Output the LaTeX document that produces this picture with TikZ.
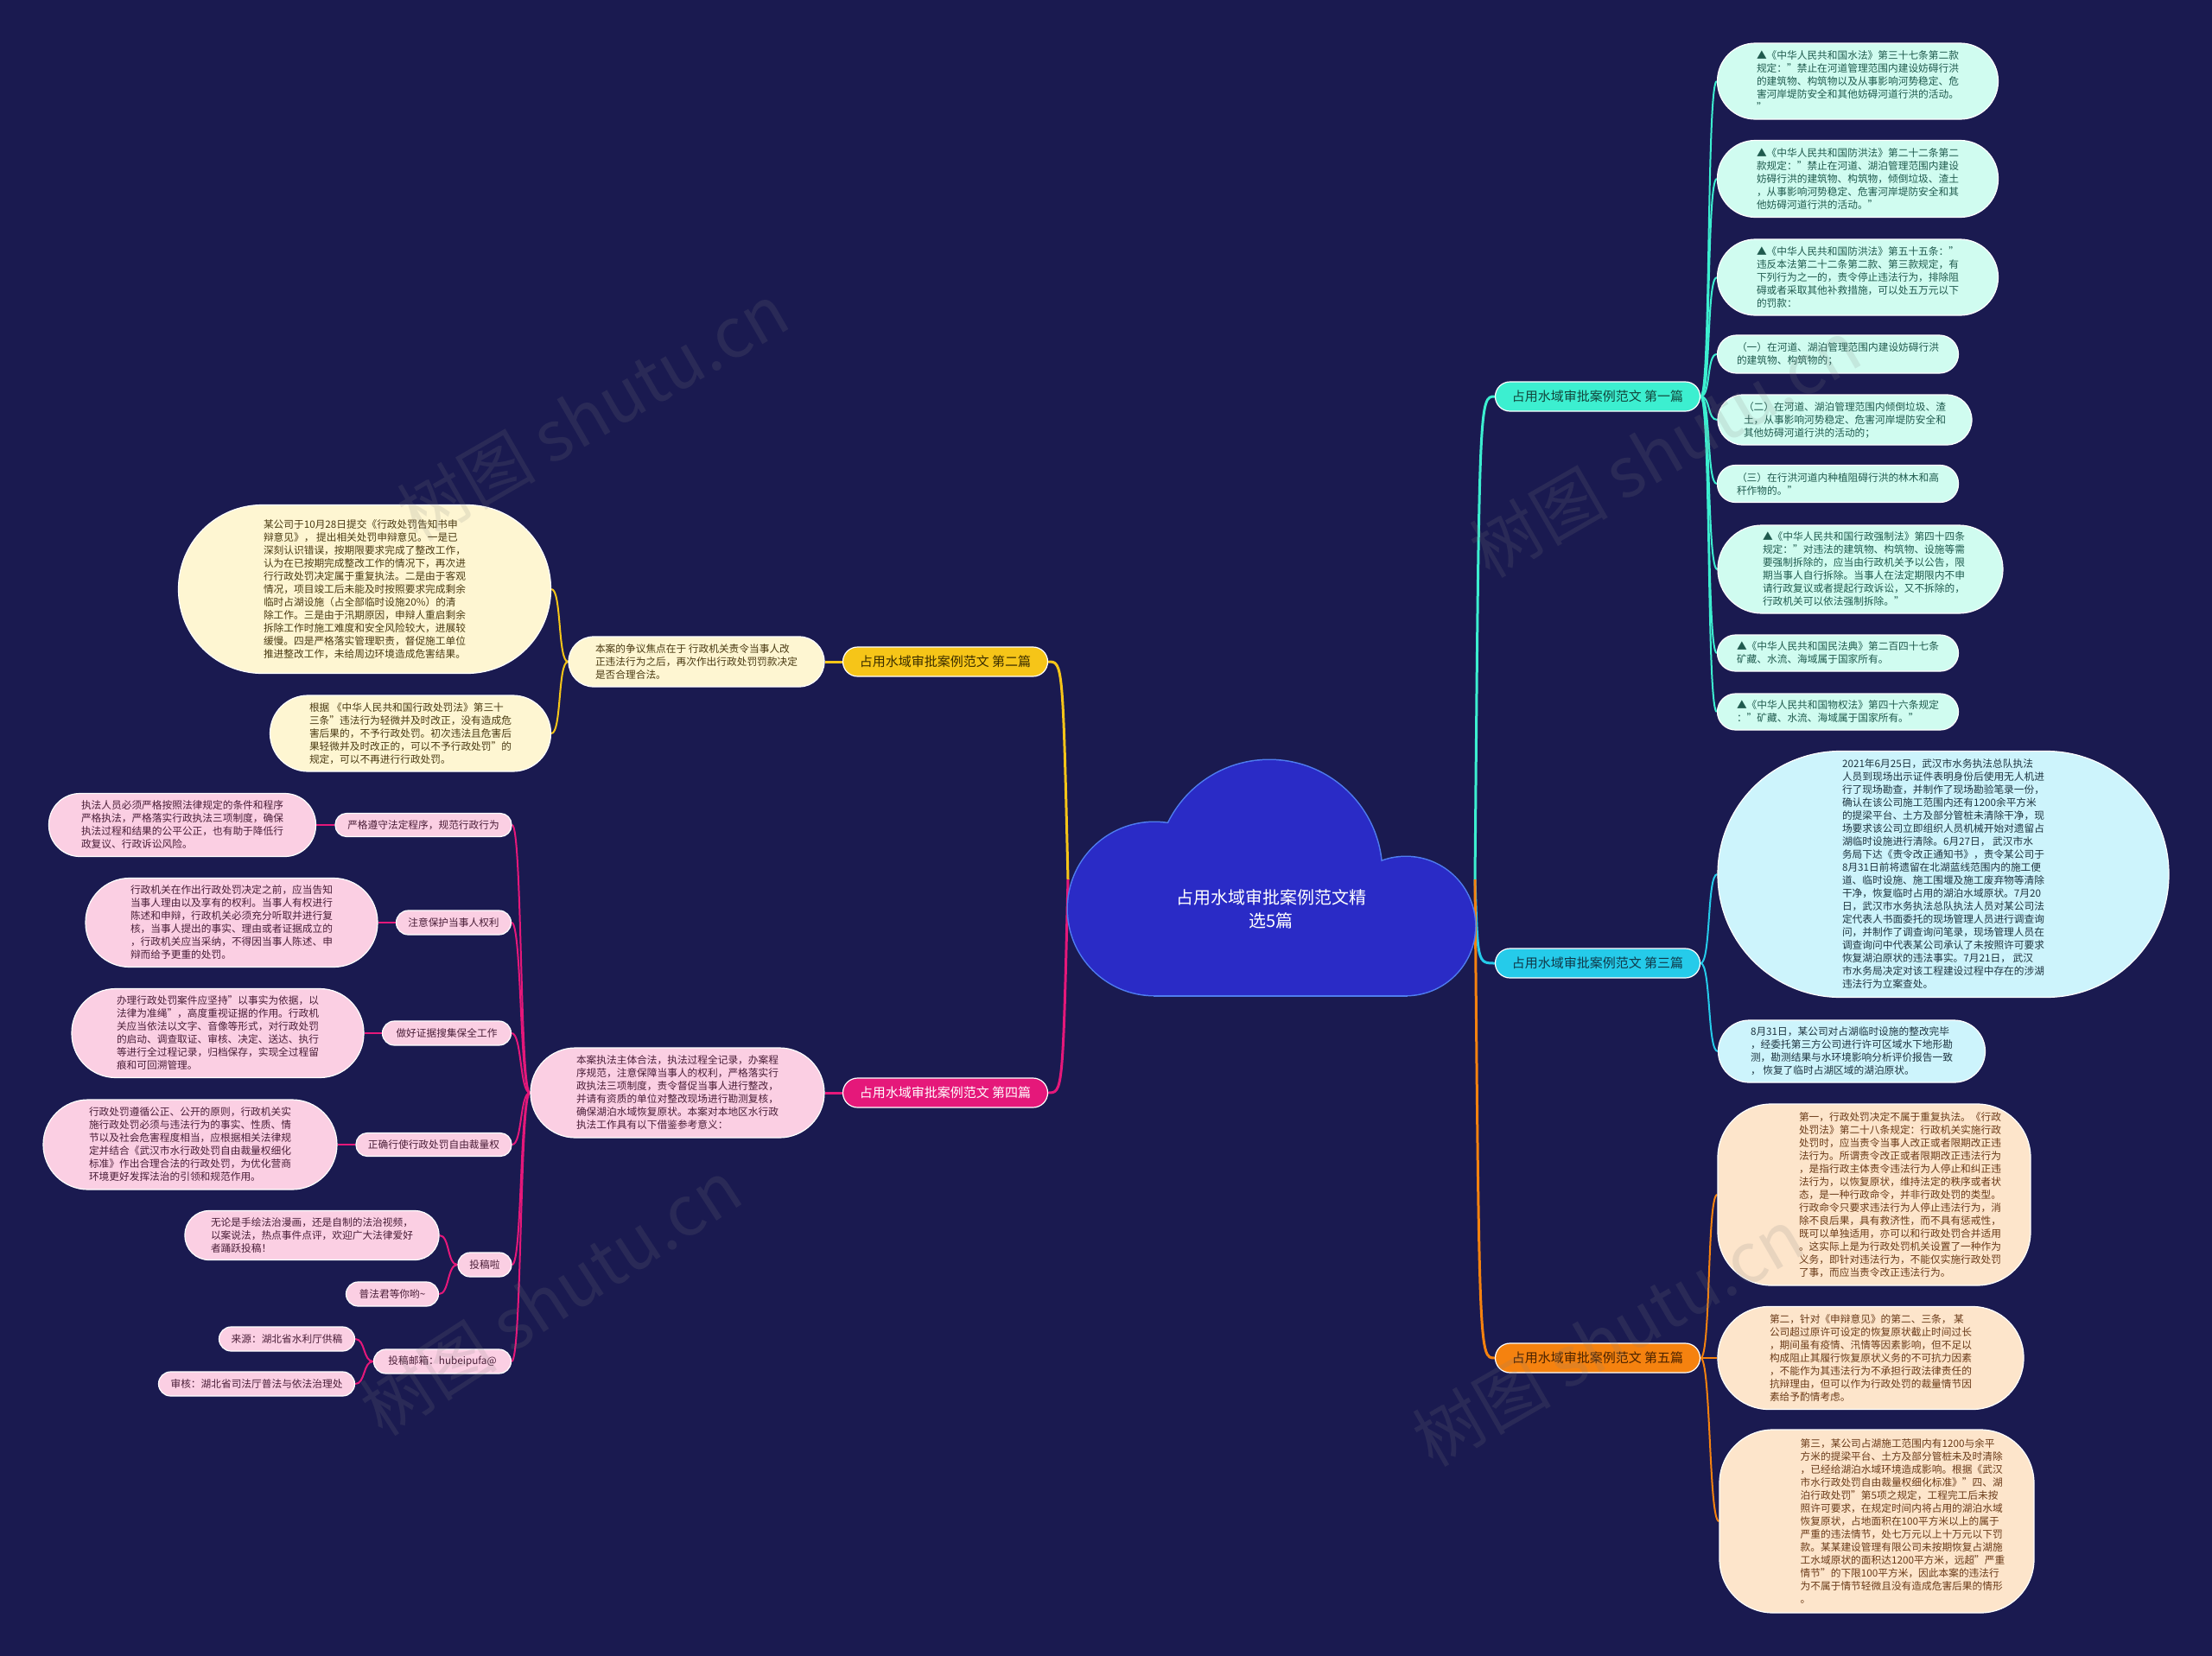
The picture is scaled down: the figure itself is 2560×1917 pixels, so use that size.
\documentclass[tikz,border=0pt]{standalone}
\usepackage{fontspec}
\setmainfont{Noto Sans CJK SC}
\usetikzlibrary{calc}
\definecolor{bgc}{HTML}{1A1A50}
\definecolor{cloudf}{HTML}{2A2BC6}
\definecolor{cloudb}{HTML}{4F7DF0}
\definecolor{g1}{HTML}{3CEFD0}
\definecolor{g1t}{HTML}{12463C}
\definecolor{mintf}{HTML}{D0FCF0}
\definecolor{mintt}{HTML}{1F5A4E}
\definecolor{g3}{HTML}{25CBEA}
\definecolor{g3t}{HTML}{10394A}
\definecolor{skyf}{HTML}{CDF4FC}
\definecolor{skyt}{HTML}{1E3440}
\definecolor{g5}{HTML}{F5820F}
\definecolor{g5t}{HTML}{4A2200}
\definecolor{peachf}{HTML}{FDE5CB}
\definecolor{peacht}{HTML}{6A3A18}
\definecolor{g2}{HTML}{F6C518}
\definecolor{g2t}{HTML}{3A2D00}
\definecolor{creamf}{HTML}{FEF6D2}
\definecolor{creamt}{HTML}{4A3A12}
\definecolor{g4}{HTML}{E5187A}
\definecolor{pinkf}{HTML}{FBCFE3}
\definecolor{pinkt}{HTML}{4A1E38}
\pgfdeclarelayer{bgl}
\pgfsetlayers{bgl,main}
\tikzset{
  leafbase/.style={rectangle, draw=white, line width=1.2pt, inner sep=0pt},
  tx/.style={font=\fontsize{11.7}{15}\selectfont, align=left, inner sep=0pt},
  mint/.style={leafbase, fill=mintf}, minttxt/.style={tx, text=mintt},
  sky/.style={leafbase, fill=skyf}, skytxt/.style={tx, text=skyt},
  peach/.style={leafbase, fill=peachf}, peachtxt/.style={tx, text=peacht},
  cream/.style={leafbase, fill=creamf}, creamtxt/.style={tx, text=creamt},
  pink/.style={leafbase, fill=pinkf}, pinktxt/.style={tx, text=pinkt},
  br/.style={rectangle, draw=white, line width=1.2pt, rounded corners=17pt,
    minimum width=237pt, minimum height=34pt, inner sep=0pt,
    font=\fontsize{15}{18}\selectfont},
  cb/.style={line width=3pt},
  lk/.style={line width=2pt},
  wm/.style={font=\fontsize{80}{90}\selectfont, text=gray, opacity=0.16},
}
\newcommand{\mleaf}[9]{%
  \node[#7, minimum width=#4pt, minimum height=#5pt, rounded corners=#6pt] (#1) at (#2,#3) {};
  \node[#7txt] (#1t) at ([xshift=#8pt]#1.center) {#9};
}
\newcommand{\rconn}[3]{\draw[lk, draw=#3] (#1.east) .. controls +(12,0) and +(-12,0) .. (#2.west);}
\newcommand{\lconn}[3]{\draw[lk, draw=#3] (#1.west) .. controls +(-12,0) and +(12,0) .. (#2.east);}
\begin{document}
\begin{tikzpicture}[x=1pt,y=-1pt]
\useasboundingbox (0,0) rectangle (2560,1917);
\begin{pgfonlayer}{bgl}
\fill[bgc] (0,0) rectangle (2560,1917);
\end{pgfonlayer}

% cloud
\draw[cloudb, line width=3pt] (1469,1010) circle[radius=130];
\draw[cloudb, line width=3pt] (1336,1052) circle[radius=100];
\draw[cloudb, line width=3pt] (1627,1072) circle[radius=80];
\draw[cloudb, line width=3pt] (1336,1050) rectangle (1627,1152);
\fill[cloudf] (1469,1010) circle[radius=130];
\fill[cloudf] (1336,1052) circle[radius=100];
\fill[cloudf] (1627,1072) circle[radius=80];
\fill[cloudf] (1336,1050) rectangle (1627,1152);
\node[font=\fontsize{20}{27}\selectfont, text=white, align=center] (ctr) at (1471,1052) {占用水域审批案例范文精\\选5篇};
\coordinate (cR) at (1707,1018);
\coordinate (cL) at (1236,1018);

% branches
\node[br, fill=g1, text=g1t] (b1) at (1849,459) {占用水域审批案例范文 第一篇};
\node[br, fill=g3, text=g3t] (b3) at (1849,1115) {占用水域审批案例范文 第三篇};
\node[br, fill=g5, text=g5t] (b5) at (1849,1572) {占用水域审批案例范文 第五篇};
\node[br, fill=g2, text=g2t] (b2) at (1094,766) {占用水域审批案例范文 第二篇};
\node[br, fill=g4, text=white] (b4) at (1094,1265) {占用水域审批案例范文 第四篇};

% branch 1 leaves
\mleaf{L1a}{2150}{94}{325}{88}{44}{mint}{0}{▲《中华人民共和国水法》第三十七条第二款\\规定："禁止在河道管理范围内建设妨碍行洪\\的建筑物、构筑物以及从事影响河势稳定、危\\害河岸堤防安全和其他妨碍河道行洪的活动。\\"}
\mleaf{L1b}{2150}{207}{325}{89}{44}{mint}{0}{▲《中华人民共和国防洪法》第二十二条第二\\款规定："禁止在河道、湖泊管理范围内建设\\妨碍行洪的建筑物、构筑物，倾倒垃圾、渣土\\，从事影响河势稳定、危害河岸堤防安全和其\\他妨碍河道行洪的活动。"}
\mleaf{L1c}{2150}{321}{325}{88}{44}{mint}{0}{▲《中华人民共和国防洪法》第五十五条："\\违反本法第二十二条第二款、第三款规定，有\\下列行为之一的，责令停止违法行为，排除阻\\碍或者采取其他补救措施，可以处五万元以下\\的罚款：}
\mleaf{L1d}{2127}{410}{279}{44}{22}{mint}{0}{（一）在河道、湖泊管理范围内建设妨碍行洪\\的建筑物、构筑物的；}
\mleaf{L1e}{2135}{486}{294}{58}{29}{mint}{0}{（二）在河道、湖泊管理范围内倾倒垃圾、渣\\土，从事影响河势稳定、危害河岸堤防安全和\\其他妨碍河道行洪的活动的；}
\mleaf{L1f}{2127}{560}{279}{43}{21}{mint}{0}{（三）在行洪河道内种植阻碍行洪的林木和高\\秆作物的。"}
\mleaf{L1g}{2153}{659}{330}{102}{51}{mint}{4}{▲《中华人民共和国行政强制法》第四十四条\\规定："对违法的建筑物、构筑物、设施等需\\要强制拆除的，应当由行政机关予以公告，限\\期当事人自行拆除。当事人在法定期限内不申\\请行政复议或者提起行政诉讼，又不拆除的，\\行政机关可以依法强制拆除。"}
\mleaf{L1h}{2127}{756}{279}{42}{21}{mint}{0}{▲《中华人民共和国民法典》第二百四十七条\\矿藏、水流、海域属于国家所有。}
\mleaf{L1i}{2127}{824}{279}{42}{21}{mint}{0}{▲《中华人民共和国物权法》第四十六条规定\\："矿藏、水流、海域属于国家所有。"}

% branch 3 leaves
\mleaf{L3a}{2249}{1012}{522}{285}{142}{sky}{0}{2021年6月25日，武汉市水务执法总队执法\\人员到现场出示证件表明身份后使用无人机进\\行了现场勘查，并制作了现场勘验笔录一份，\\确认在该公司施工范围内还有1200余平方米\\的提梁平台、土方及部分管桩未清除干净，现\\场要求该公司立即组织人员机械开始对遗留占\\湖临时设施进行清除。6月27日， 武汉市水\\务局下达《责令改正通知书》，责令某公司于\\8月31日前将遗留在北湖蓝线范围内的施工便\\道、临时设施、施工围堰及施工废弃物等清除\\干净，恢复临时占用的湖泊水域原状。7月20\\日，武汉市水务执法总队执法人员对某公司法\\定代表人书面委托的现场管理人员进行调查询\\问，并制作了调查询问笔录，现场管理人员在\\调查询问中代表某公司承认了未按照许可要求\\恢复湖泊原状的违法事实。7月21日， 武汉\\市水务局决定对该工程建设过程中存在的涉湖\\违法行为立案查处。}
\mleaf{L3b}{2143}{1217}{309}{72}{36}{sky}{0}{8月31日，某公司对占湖临时设施的整改完毕\\，经委托第三方公司进行许可区域水下地形勘\\测，勘测结果与水环境影响分析评价报告一致\\， 恢复了临时占湖区域的湖泊原状。}

% branch 5 leaves
\mleaf{L5a}{2169}{1383}{362}{210}{62}{peach}{30}{第一，行政处罚决定不属于重复执法。《行政\\处罚法》第二十八条规定：行政机关实施行政\\处罚时，应当责令当事人改正或者限期改正违\\法行为。所谓责令改正或者限期改正违法行为\\，是指行政主体责令违法行为人停止和纠正违\\法行为，以恢复原状，维持法定的秩序或者状\\态，是一种行政命令，并非行政处罚的类型。\\行政命令只要求违法行为人停止违法行为，消\\除不良后果，具有救济性，而不具有惩戒性，\\既可以单独适用，亦可以和行政处罚合并适用\\。这实际上是为行政处罚机关设置了一种作为\\义务，即针对违法行为，不能仅实施行政处罚\\了事，而应当责令改正违法行为。}
\mleaf{L5b}{2165}{1572}{354}{119}{59}{peach}{0}{第二，针对《申辩意见》的第二、三条， 某\\公司超过原许可设定的恢复原状截止时间过长\\，期间虽有疫情、汛情等因素影响，但不足以\\构成阻止其履行恢复原状义务的不可抗力因素\\，不能作为其违法行为不承担行政法律责任的\\抗辩理由，但可以作为行政处罚的裁量情节因\\素给予酌情考虑。}
\mleaf{L5c}{2172}{1761}{364}{212}{62}{peach}{30}{第三，某公司占湖施工范围内有1200与余平\\方米的提梁平台、土方及部分管桩未及时清除\\，已经给湖泊水域环境造成影响。根据《武汉\\市水行政处罚自由裁量权细化标准》"四、湖\\泊行政处罚"第5项之规定，工程完工后未按\\照许可要求，在规定时间内将占用的湖泊水域\\恢复原状，占地面积在100平方米以上的属于\\严重的违法情节，处七万元以上十万元以下罚\\款。某某建设管理有限公司未按期恢复占湖施\\工水域原状的面积达1200平方米，远超"严重\\情节"的下限100平方米，因此本案的违法行\\为不属于情节轻微且没有造成危害后果的情形\\。}

% branch 2
\mleaf{C2}{806}{766}{296}{58}{29}{cream}{0}{本案的争议焦点在于 行政机关责令当事人改\\正违法行为之后，再次作出行政处罚罚款决定\\是否合理合法。}
\mleaf{Y1}{422}{682}{431}{195}{97}{cream}{0}{某公司于10月28日提交《行政处罚告知书申\\辩意见》， 提出相关处罚申辩意见。一是已\\深刻认识错误，按期限要求完成了整改工作，\\认为在已按期完成整改工作的情况下，再次进\\行行政处罚决定属于重复执法。二是由于客观\\情况，项目竣工后未能及时按照要求完成剩余\\临时占湖设施（占全部临时设施20\%）的清\\除工作。三是由于汛期原因，申辩人重启剩余\\拆除工作时施工难度和安全风险较大，进展较\\缓慢。四是严格落实管理职责，督促施工单位\\推进整改工作，未给周边环境造成危害结果。}
\mleaf{Y2}{475}{849}{325}{88}{44}{cream}{0}{根据 《中华人民共和国行政处罚法》第三十\\三条"违法行为轻微并及时改正，没有造成危\\害后果的，不予行政处罚。初次违法且危害后\\果轻微并及时改正的，可以不予行政处罚"的\\规定，可以不再进行行政处罚。}

% branch 4
\mleaf{C4}{784}{1265}{340}{104}{52}{pink}{0}{本案执法主体合法，执法过程全记录，办案程\\序规范，注意保障当事人的权利，严格落实行\\政执法三项制度，责令督促当事人进行整改，\\并请有资质的单位对整改现场进行勘测复核，\\确保湖泊水域恢复原状。本案对本地区水行政\\执法工作具有以下借鉴参考意义：}
\mleaf{S1}{490}{955}{204}{27}{13}{pink}{0}{严格遵守法定程序，规范行政行为}
\mleaf{S2}{525}{1068}{133}{28}{14}{pink}{0}{注意保护当事人权利}
\mleaf{S3}{517}{1196}{149}{28}{14}{pink}{0}{做好证据搜集保全工作}
\mleaf{S4}{502}{1325}{180}{27}{13}{pink}{0}{正确行使行政处罚自由裁量权}
\mleaf{S5}{561}{1464}{62}{28}{14}{pink}{0}{投稿啦}
\mleaf{S6}{512}{1576}{159}{28}{14}{pink}{0}{投稿邮箱：hubeipufa@}
\mleaf{P1}{211}{955}{309}{73}{36}{pink}{0}{执法人员必须严格按照法律规定的条件和程序\\严格执法，严格落实行政执法三项制度，确保\\执法过程和结果的公平公正，也有助于降低行\\政复议、行政诉讼风险。}
\mleaf{P2}{268}{1068}{338}{103}{51}{pink}{0}{行政机关在作出行政处罚决定之前，应当告知\\当事人理由以及享有的权利。当事人有权进行\\陈述和申辩，行政机关必须充分听取并进行复\\核，当事人提出的事实、理由或者证据成立的\\，行政机关应当采纳，不得因当事人陈述、申\\辩而给予更重的处罚。}
\mleaf{P3}{252}{1196}{338}{103}{51}{pink}{0}{办理行政处罚案件应坚持"以事实为依据，以\\法律为准绳"，高度重视证据的作用。行政机\\关应当依法以文字、音像等形式，对行政处罚\\的启动、调查取证、审核、决定、送达、执行\\等进行全过程记录，归档保存，实现全过程留\\痕和可回溯管理。}
\mleaf{P4}{220}{1325}{340}{104}{52}{pink}{0}{行政处罚遵循公正、公开的原则，行政机关实\\施行政处罚必须与违法行为的事实、性质、情\\节以及社会危害程度相当，应根据相关法律规\\定并结合《武汉市水行政处罚自由裁量权细化\\标准》作出合理合法的行政处罚，为优化营商\\环境更好发挥法治的引领和规范作用。}
\mleaf{Q1}{361}{1430}{294}{57}{28}{pink}{0}{无论是手绘法治漫画，还是自制的法治视频，\\以案说法，热点事件点评，欢迎广大法律爱好\\者踊跃投稿！}
\mleaf{Q2}{454}{1498}{107}{28}{14}{pink}{0}{普法君等你哟\textasciitilde}
\mleaf{Q3}{332}{1550}{157}{28}{14}{pink}{0}{来源：湖北省水利厅供稿}
\mleaf{Q4}{297}{1602}{227}{28}{14}{pink}{0}{审核：湖北省司法厅普法与依法治理处}

% connectors
\begin{pgfonlayer}{bgl}
\draw[cb, draw=g1] (cR) .. controls (1712,459) and (1712,459) .. (b1.west);
\draw[cb, draw=g3] (cR) .. controls (1710,1115) and (1710,1115) .. (b3.west);
\draw[cb, draw=g5] (cR) .. controls (1712,1572) and (1712,1572) .. (b5.west);
\draw[cb, draw=g2] (cL) .. controls (1230,766) and (1230,766) .. (b2.east);
\draw[cb, draw=g4] (cL) .. controls (1230,1265) and (1230,1265) .. (b4.east);
\foreach \n in {L1a,L1b,L1c,L1d,L1e,L1f,L1g,L1h,L1i} {\rconn{b1}{\n}{g1}}
\foreach \n in {L3a,L3b} {\rconn{b3}{\n}{g3}}
\foreach \n in {L5a,L5b,L5c} {\rconn{b5}{\n}{g5}}
\draw[cb, draw=g2] (b2.west) -- (C2.east);
\lconn{C2}{Y1}{g2}
\lconn{C2}{Y2}{g2}
\draw[cb, draw=g4] (b4.west) -- (C4.east);
\foreach \n in {S1,S2,S3,S4,S5,S6} {\lconn{C4}{\n}{g4}}
\lconn{S1}{P1}{g4}
\lconn{S2}{P2}{g4}
\lconn{S3}{P3}{g4}
\lconn{S4}{P4}{g4}
\lconn{S5}{Q1}{g4}
\lconn{S5}{Q2}{g4}
\lconn{S6}{Q3}{g4}
\lconn{S6}{Q4}{g4}
\end{pgfonlayer}

% watermarks
\node[wm, rotate=30] (wm1) at (686,477) {树图 shutu.cn};
\node[wm, rotate=30] (wm2) at (1927,519) {树图 shutu.cn};
\node[wm, rotate=33] (wm3) at (637,1502) {树图 shutu.cn};
\node[wm, rotate=30] (wm4) at (1861,1548) {树图 shutu.cn};
\end{tikzpicture}
\end{document}
